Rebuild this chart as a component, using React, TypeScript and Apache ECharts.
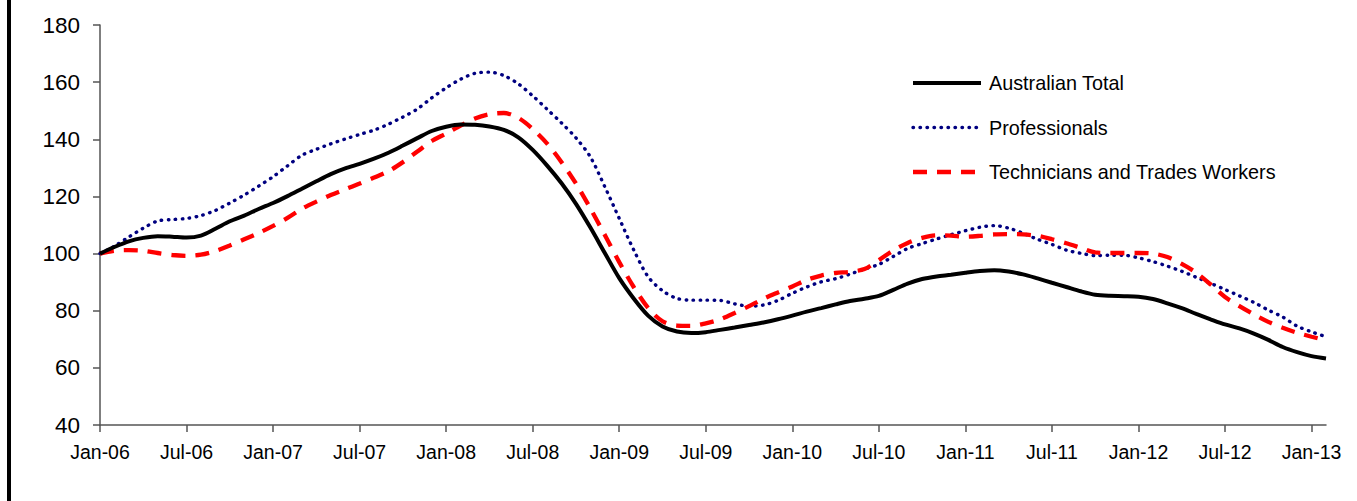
import React, { useEffect, useRef } from "react";
import * as echarts from "echarts";

// Monthly index (Jan-06 = 100), Jan-06 through Feb-13
const MONTHS = ["Jan", "Feb", "Mar", "Apr", "May", "Jun", "Jul", "Aug", "Sep", "Oct", "Nov", "Dec"];
const YEARS = ["06", "07", "08", "09", "10", "11", "12", "13"];
const MONTH_COUNT = 86;

const categories: string[] = [];
for (let i = 0; i < MONTH_COUNT; i++) {
  categories.push(`${MONTHS[i % 12]}-${YEARS[Math.floor(i / 12)]}`);
}

const australianTotal = [
  100.0, 102.3, 104.3, 105.5, 106.1, 105.9, 105.6, 106.3, 108.7, 111.3, 113.3, 115.6,
  117.7, 120.1, 122.7, 125.3, 127.8, 129.8, 131.4, 133.2, 135.3, 137.8, 140.4, 142.9,
  144.4, 145.2, 145.1, 144.5, 143.3, 140.7, 136.3, 130.8, 124.6, 117.4, 109.1, 100.2,
  91.4, 84.3, 78.3, 74.5, 72.7, 72.2, 72.5, 73.3, 74.1, 75.0, 75.9, 77.0,
  78.3, 79.7, 80.9, 82.2, 83.4, 84.2, 85.2, 87.3, 89.5, 91.1, 92.0, 92.6,
  93.3, 93.9, 94.2, 93.7, 92.7, 91.3, 89.8, 88.3, 86.8, 85.6, 85.2, 85.1,
  84.9, 84.1, 82.6, 80.9, 78.9, 77.0, 75.2, 73.8, 72.0, 69.8, 67.3, 65.5,
  64.1, 63.3,
];

const professionals = [
  100.0, 102.6, 105.8, 108.9, 111.4, 111.9, 112.3, 113.3, 115.1, 117.7, 120.5, 123.6,
  126.9, 130.7, 134.4, 136.5, 138.4, 140.1, 141.7, 143.2, 145.3, 147.8, 150.6, 154.5,
  158.0, 161.0, 163.1, 163.5, 162.3, 159.4, 155.2, 150.5, 145.7, 140.5, 133.8, 123.4,
  112.3, 101.3, 91.9, 87.0, 84.3, 83.7, 83.7, 83.6, 82.4, 81.6, 82.0, 83.6,
  86.1, 88.3, 90.1, 91.2, 92.8, 94.6, 96.2, 99.0, 101.8, 103.5, 105.1, 106.6,
  108.0, 109.2, 109.8, 108.9, 107.1, 105.0, 103.2, 101.2, 100.1, 99.3, 99.4, 99.4,
  98.5, 97.2, 95.6, 93.8, 91.7, 89.6, 87.4, 85.2, 82.9, 80.2, 77.8, 74.6,
  72.6, 70.9,
];

const techniciansTrades = [
  100.0, 101.0, 101.2, 101.0, 100.2, 99.5, 99.2, 99.6, 100.9, 102.8, 105.0, 107.2,
  109.7, 112.5, 115.7, 118.2, 120.5, 122.5, 124.5, 126.6, 128.8, 132.0, 135.7, 139.4,
  142.0, 144.8, 147.3, 148.8, 149.2, 147.5, 143.6, 138.5, 132.0, 124.5, 115.8, 106.5,
  97.0, 88.3, 81.0, 76.3, 74.8, 74.7, 75.6, 77.0, 79.2, 81.6, 84.2, 86.4,
  88.5, 90.8, 92.3, 93.2, 93.6, 94.6, 97.7, 101.1, 103.7, 105.5, 106.4, 106.3,
  105.9, 106.2, 106.7, 106.8, 106.7, 106.2, 105.0, 103.6, 102.0, 100.4, 100.2, 100.2,
  100.2, 100.0, 98.8, 96.4, 93.3, 89.2, 84.8, 81.6, 78.7, 76.1, 74.0, 72.3,
  70.9, 69.6,
];

const SERIES_NAMES = ["Australian Total", "Professionals", "Technicians and Trades Workers"];

const FONT = '"Liberation Sans", Arial, sans-serif';
const AXIS_COLOR = "#555555";

const LINE_STYLES = [
  { color: "#000000", width: 4, type: "solid" as any, cap: "butt" as any },
  { color: "#000080", width: 3.4, type: [0.5, 6.5] as any, cap: "round" as any },
  { color: "#ff0000", width: 4.3, type: [14, 10] as any, cap: "butt" as any },
];

export default function App() {
  const ref = useRef<HTMLDivElement>(null);

  useEffect(() => {
    if (!ref.current) return;
    const chart = echarts.init(ref.current, undefined, { renderer: "svg" });

    // Hand-built key: sample line plus label per series
    const legendRows: any[] = [];
    SERIES_NAMES.forEach((name, i) => {
      const y = 83 + i * 44.5;
      const ls = LINE_STYLES[i];
      legendRows.push({
        type: "line",
        shape: { x1: 913, y1: y, x2: 981, y2: y },
        style: {
          stroke: ls.color,
          lineWidth: ls.width,
          lineDash: Array.isArray(ls.type) ? ls.type : null,
          lineCap: ls.cap,
        },
      });
      legendRows.push({
        type: "text",
        x: 989,
        y,
        style: {
          text: name,
          fill: "#000",
          font: `19.8px ${FONT}`,
          textVerticalAlign: "middle",
          verticalAlign: "middle",
        },
      });
    });

    chart.setOption({
      animation: false,
      backgroundColor: "#ffffff",
      textStyle: { fontFamily: FONT },
      grid: { left: 100, right: 31, top: 25, bottom: 76, containLabel: false },
      graphic: [
        {
          type: "rect",
          left: 7,
          top: 0,
          shape: { width: 4, height: 501 },
          style: { fill: "#000000" },
        },
        ...legendRows,
      ],
      xAxis: {
        type: "category",
        data: categories,
        boundaryGap: false,
        axisLine: { lineStyle: { color: AXIS_COLOR, width: 1.5 } },
        axisTick: { interval: 5, length: 7, lineStyle: { color: AXIS_COLOR, width: 1.5 } },
        axisLabel: { interval: 5, margin: 17, fontSize: 19.5, color: "#000", fontFamily: FONT },
        splitLine: { show: false },
      },
      yAxis: {
        type: "value",
        min: 40,
        max: 180,
        interval: 20,
        axisLine: { show: true, lineStyle: { color: AXIS_COLOR, width: 1.5 } },
        axisTick: { show: true, length: 7, lineStyle: { color: AXIS_COLOR, width: 1.5 } },
        axisLabel: { margin: 20, fontSize: 22.5, color: "#000", fontFamily: FONT },
        splitLine: { show: false },
      },
      series: SERIES_NAMES.map((name, i) => ({
        name,
        type: "line",
        data: [australianTotal, professionals, techniciansTrades][i],
        smooth: 0.3,
        showSymbol: false,
        symbol: "none",
        lineStyle: LINE_STYLES[i],
        itemStyle: { color: LINE_STYLES[i].color },
        z: i === 0 ? 3 : 2,
      })),
    });
    return () => chart.dispose();
  }, []);

  return (
    <div
      ref={ref}
      style={{ position: "absolute", left: 0, top: 0, width: 1357, height: 501, background: "#fff" }}
    />
  );
}
